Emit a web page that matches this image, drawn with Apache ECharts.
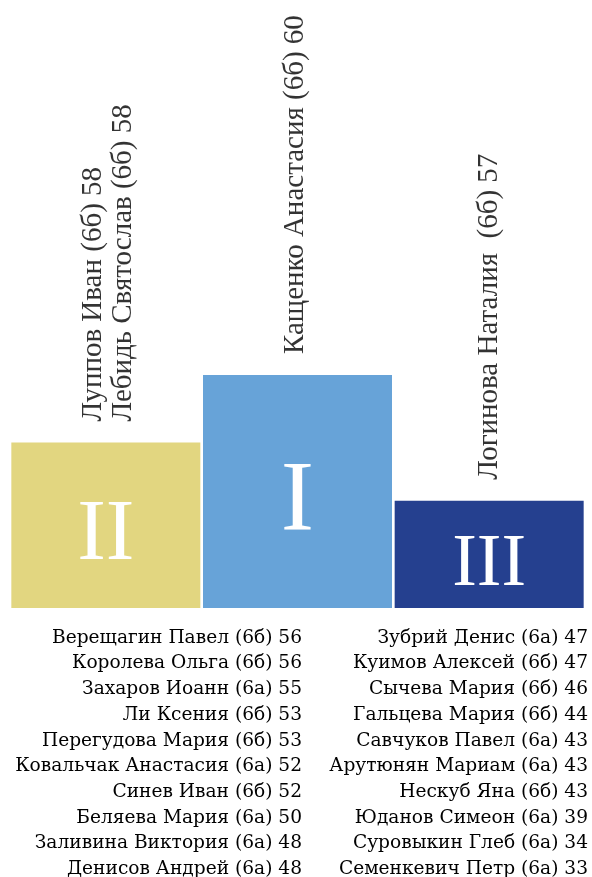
<!DOCTYPE html>
<html>
<head>
<meta charset="utf-8">
<script src="https://cdn.jsdelivr.net/npm/echarts@6/dist/echarts.min.js"></script>
<style>
html,body{margin:0;padding:0;background:#fff;}
#c{width:592px;height:877px;}
</style>
</head>
<body>
<div id="c"></div>
<script>
// ---- data ----
const places = ['II', 'I', 'III'];
const podiumHeights = [71, 100, 46];
const winnerNames = [
  ['Луппов Иван (6б)', 'Лебидь Святослав (6б)'],
  ['Кащенко Анастасия (6б)'],
  ['Логинова Наталия  (6б)']
];
const winnerScores = [[58, 58], [60], [57]];

const leftNames = [
  'Верещагин Павел (6б)', 'Королева Ольга (6б)', 'Захаров Иоанн (6а)', 'Ли Ксения (6б)',
  'Перегудова Мария (6б)', 'Ковальчак Анастасия (6а)', 'Синев Иван (6б)', 'Беляева Мария (6а)',
  'Заливина Виктория (6а)', 'Денисов Андрей (6а)'
];
const leftScores = [56, 56, 55, 53, 53, 52, 52, 50, 48, 48];
const rightNames = [
  'Зубрий Денис (6а)', 'Куимов Алексей (6б)', 'Сычева Мария (6б)', 'Гальцева Мария (6б)',
  'Савчуков Павел (6а)', 'Арутюнян Мариам (6а)', 'Нескуб Яна (6б)', 'Юданов Симеон (6а)',
  'Суровыкин Глеб (6а)', 'Семенкевич Петр (6а)'
];
const rightScores = [47, 47, 46, 44, 43, 43, 43, 39, 34, 33];

// ---- chart ----
const colors = ['#E2D680', '#67A3D8', '#25408F'];
const numeralSizes = [86, 100, 74];
const nameOffsets = [[0, 3], [0, -2], [0, 0]];
const serif = '"Liberation Serif", "Times New Roman", serif';
const listFont = '18.6px "DejaVu Serif", serif';

function listGraphics(names, scores, rightX) {
  const top = 638, step = 25.67;
  return names.map((n, i) => ({
    type: 'text',
    style: {
      text: n + ' ' + scores[i],
      x: rightX,
      y: top + i * step,
      align: 'right',
      verticalAlign: 'middle',
      font: listFont,
      fill: '#000'
    }
  }));
}

const chart = echarts.init(document.getElementById('c'), null, {renderer: 'canvas'});
chart.setOption({
  animation: false,
  backgroundColor: '#fff',
  grid: {left: 10, right: 7, top: 375, bottom: 269, containLabel: false},
  xAxis: {
    type: 'category',
    data: places,
    show: false
  },
  yAxis: {type: 'value', min: 0, max: 100, show: false},
  series: [
    {
      type: 'bar',
      barWidth: 189,
      data: podiumHeights.map((v, i) => ({
        value: v,
        itemStyle: {color: colors[i]},
        label: {fontSize: numeralSizes[i]}
      })),
      label: {
        show: true,
        position: 'inside',
        offset: [0, 11],
        formatter: p => places[p.dataIndex],
        color: '#fff',
        fontFamily: serif
      }
    },
    {
      type: 'scatter',
      symbolSize: 0,
      data: podiumHeights.map((v, i) => ({value: v, label: {offset: nameOffsets[i]}})),
      label: {
        show: true,
        position: 'top',
        distance: 21,
        rotate: 90,
        align: 'left',
        verticalAlign: 'middle',
        fontFamily: serif,
        fontSize: 29,
        lineHeight: 30,
        color: '#000',
        formatter: p => winnerNames[p.dataIndex].map((n, j) => n + ' ' + winnerScores[p.dataIndex][j]).join('\n')
      }
    }
  ],
  graphic: listGraphics(leftNames, leftScores, 302).concat(listGraphics(rightNames, rightScores, 588))
});
</script>
</body>
</html>
